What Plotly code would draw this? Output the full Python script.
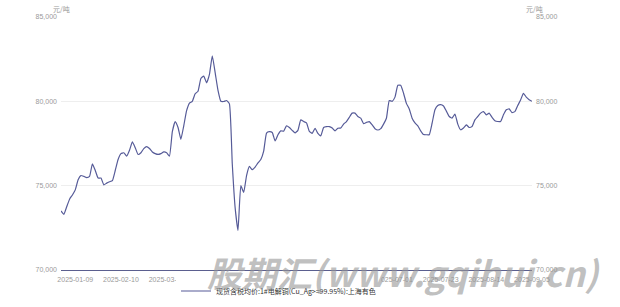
import pandas as pd
import plotly.graph_objects as go

# Trading-day categories (Jan 2 - Sep 5 2025, excluding weekends and Chinese market holidays)
holidays = ["2025-01-01", "2025-01-28", "2025-01-29", "2025-01-30", "2025-01-31",
            "2025-02-03", "2025-02-04", "2025-04-04", "2025-05-01", "2025-05-02",
            "2025-05-05", "2025-06-02"]
dates = [d.strftime("%Y-%m-%d") for d in pd.bdate_range("2025-01-02", "2025-09-05")
         if d.strftime("%Y-%m-%d") not in holidays]

prices = [
    73500, 73300, 73750, 74200, 74450, 74750, 75350, 75600, 75550, 75480,
    75550, 76300, 75900, 75450, 75450, 75050, 75150, 75230, 75300, 75900,
    76550, 76900, 76950, 76750, 77100, 77600, 77250, 76850, 76950, 77200,
    77320, 77200, 77000, 76900, 76850, 76900, 77000, 76950, 76750, 78200,
    78800, 78450, 77750, 78550, 79450, 79900, 80000, 80450, 80600, 81350,
    81500, 81100, 81600, 82700, 81700, 80650, 80000, 79990, 80050, 79850,
    76300, 73700, 72350, 75000, 74600, 75600, 76140, 75950, 76100, 76350,
    76550, 77050, 78120, 78200, 78150, 77650, 78020, 78250, 78230, 78550,
    78450, 78280, 78130, 78280, 78900, 78800, 78720, 78220, 78100, 78400,
    78100, 77950, 78450, 78500, 78500, 78420, 78250, 78400, 78420, 78650,
    78800, 79050, 79300, 79300, 79100, 79000, 78680, 78750, 78800, 78600,
    78380, 78300, 78380, 78650, 79000, 80050, 80000, 80250, 80950, 80950,
    80480, 79880, 79550, 79000, 78720, 78550, 78250, 78030, 78020, 78020,
    78700, 79500, 79750, 79800, 79720, 79420, 79100, 79005, 79250, 78650,
    78313, 78414, 78600, 78450, 78509, 78900, 79100, 79300, 79397, 79200,
    79300, 79050, 78850, 78805, 78805, 79200, 79500, 79550, 79330, 79390,
    79750, 80080, 80480, 80250, 80100, 80000,
]

tick_dates = ["2025-01-09", "2025-02-10", "2025-03-04", "2025-03-26", "2025-04-18",
              "2025-05-15", "2025-06-09", "2025-07-01", "2025-07-23", "2025-08-14",
              "2025-09-05"]
y_ticks = [70000, 75000, 80000, 85000]
y_tick_text = ["70,000", "75,000", "80,000", "85,000"]

series_name = "现货含税均价:1#电解铜(Cu_Ag>=99.95%):上海有色"
line_color = "#565b98"
font_family = "Liberation Sans, Noto Sans CJK SC, sans-serif"
cjk_family = "Noto Sans CJK SC, sans-serif"

W, H = 620, 307
ML, MR, MT, MB = 61, 88, 17, 37
PW, PH = W - ML - MR, H - MT - MB


def px(x):
    return (x - ML) / PW


def py(y):
    return (H - MB - y) / PH


fig = go.Figure()
fig.add_trace(go.Scatter(
    x=dates, y=prices, mode="lines", name=series_name,
    line=dict(color=line_color, width=1.2, shape="spline", smoothing=0.4),
))
fig.add_trace(go.Scatter(
    x=dates, y=prices, mode="lines", yaxis="y2", showlegend=False,
    hoverinfo="skip", line=dict(color="rgba(0,0,0,0)", width=0),
))

tick_font = dict(size=7, color="#9a9a9a", family=font_family)

fig.update_layout(
    width=W, height=H,
    margin=dict(l=ML, r=MR, t=MT, b=MB, autoexpand=False),
    paper_bgcolor="white", plot_bgcolor="white",
    font=dict(family=font_family, size=7, color="#999999"),
    xaxis=dict(
        type="category", range=[0, len(dates) - 1],
        tickmode="array", tickvals=tick_dates, ticktext=tick_dates,
        tickangle=0, automargin=False, ticklabelstandoff=2,
        showgrid=False, showline=True, linecolor="#5b5f8f", linewidth=1.2,
        ticks="", tickfont=tick_font, zeroline=False,
    ),
    yaxis=dict(
        range=[70000, 85000], tickvals=y_ticks, ticktext=y_tick_text,
        automargin=False, ticklabelstandoff=3,
        showgrid=True, gridcolor="#eeeeee", gridwidth=1, zeroline=False,
        showline=False, ticks="", tickfont=tick_font,
    ),
    yaxis2=dict(
        range=[70000, 85000], tickvals=y_ticks, ticktext=y_tick_text,
        automargin=False, ticklabelstandoff=3,
        overlaying="y", side="right", showgrid=False, zeroline=False,
        showline=False, ticks="", tickfont=tick_font,
    ),
    legend=dict(
        orientation="h", x=px(176), xanchor="left", y=py(291), yanchor="middle",
        font=dict(size=7, color="#333333", family=cjk_family),
        itemwidth=30,
    ),
    showlegend=True,
    annotations=[
        dict(text="元/吨", x=px(61), y=py(9), xref="paper", yref="paper", showarrow=False,
             xanchor="center", yanchor="middle",
             font=dict(size=7, color="#999999", family=cjk_family)),
        dict(text="元/吨", x=px(534), y=py(9), xref="paper", yref="paper", showarrow=False,
             xanchor="center", yanchor="middle",
             font=dict(size=7, color="#999999", family=cjk_family)),
        dict(text="股期汇(www.gqihui.cn)", x=px(403), y=py(271), xref="paper", yref="paper",
             showarrow=False, xanchor="center", yanchor="middle",
             font=dict(size=35, color="rgba(150,150,150,0.6)", weight="bold",
                       style="italic", family=cjk_family)),
    ],
)

fig.write_html("out.html")
